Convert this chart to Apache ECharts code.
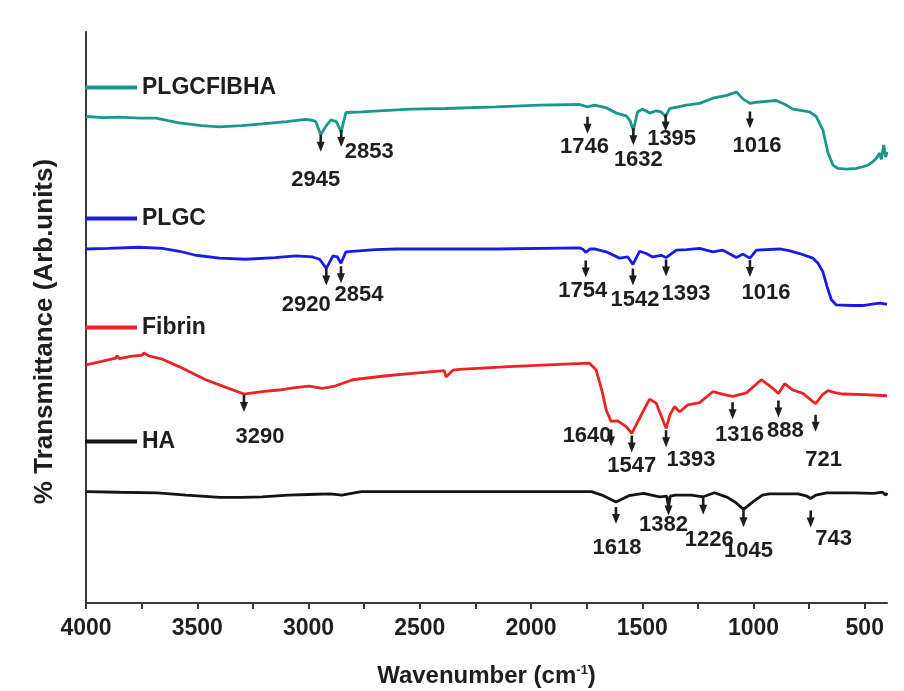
<!DOCTYPE html>
<html>
<head>
<meta charset="utf-8">
<script src="https://cdn.jsdelivr.net/npm/echarts@6/dist/echarts.min.js"></script>
<style>
  html, body { margin: 0; padding: 0; background: #ffffff; }
  #chart { width: 904px; height: 691px; }
</style>
</head>
<body>
<div id="chart"></div>
<script>
// FTIR spectra, stacked with offsets: [wavenumber (cm-1), transmittance (arb. units)]
const plgcfibha = [
  [4000,85.2],[3920,85.0],[3850,85.1],[3760,84.9],[3686,84.9],[3582,84.1],[3480,83.6],[3402,83.4],
  [3300,83.6],[3208,83.9],[3100,84.3],[3012,84.7],[2980,84.5],[2967,84.3],[2945,82.0],[2920,83.6],
  [2899,84.6],[2875,84.3],[2853,82.5],[2832,85.9],[2760,86.0],[2682,86.2],[2540,86.5],[2382,86.6],
  [2157,86.9],[1960,87.2],[1782,87.3],[1746,86.9],[1715,87.2],[1660,86.7],[1617,85.8],[1572,85.3],
  [1555,84.5],[1540,82.8],[1521,86.0],[1499,86.5],[1467,85.8],[1437,86.2],[1415,86.0],[1395,85.2],
  [1377,86.6],[1302,87.2],[1242,87.5],[1183,88.4],[1120,88.9],[1077,89.5],[1045,88.2],[1016,87.5],
  [987,87.7],[930,87.9],[898,88.0],[853,87.2],[823,86.5],[748,86.0],[718,85.2],[688,82.8],
  [665,78.8],[643,76.7],[620,76.1],[583,76.0],[538,76.1],[508,76.4],[485,76.7],[463,77.3],
  [448,77.9],[433,78.8],[425,77.7],[415,80.2],[406,78.1],[400,79.0]
];
const plgc = [
  [4000,62.0],[3900,62.1],[3762,62.3],[3657,62.1],[3580,61.6],[3507,60.9],[3400,60.4],[3282,60.2],
  [3150,60.5],[3057,60.8],[2982,60.6],[2950,60.2],[2920,58.6],[2890,60.8],[2870,60.6],[2854,59.5],
  [2832,61.5],[2700,61.9],[2607,62.0],[2157,62.0],[1782,62.2],[1765,61.9],[1754,61.4],[1735,62.0],
  [1715,62.0],[1662,61.5],[1602,60.4],[1565,60.6],[1542,59.3],[1512,61.6],[1482,61.2],[1453,60.6],
  [1415,60.9],[1393,60.5],[1347,61.8],[1300,61.9],[1242,62.1],[1183,61.5],[1138,61.8],[1077,60.5],
  [1048,61.1],[1016,60.4],[987,61.8],[883,62.0],[840,61.7],[793,61.2],[733,60.4],[710,59.5],
  [688,58.0],[670,55.5],[650,53.1],[628,52.2],[560,52.1],[508,52.1],[460,52.4],[430,52.5],[400,52.3]
];
const fibrin = [
  [4000,41.7],[3930,42.3],[3866,42.9],[3860,43.3],[3850,42.8],[3800,43.2],[3747,43.4],[3740,43.8],
  [3720,43.3],[3657,42.7],[3582,41.4],[3462,39.1],[3380,37.9],[3290,36.6],[3210,37.0],[3132,37.3],
  [3060,37.7],[2997,38.0],[2937,37.6],[2880,38.0],[2802,39.1],[2650,39.8],[2532,40.2],[2390,40.7],
  [2382,39.6],[2375,39.9],[2350,40.8],[2322,40.9],[2100,41.4],[1872,41.8],[1737,42.0],[1707,40.8],
  [1680,37.0],[1662,33.8],[1640,31.8],[1610,31.9],[1572,30.9],[1547,29.7],[1505,32.9],[1467,35.7],
  [1437,35.0],[1393,30.6],[1375,33.0],[1355,34.4],[1332,33.5],[1295,34.7],[1242,35.1],[1183,37.0],
  [1122,36.4],[1094,36.2],[1032,36.8],[965,39.1],[913,37.6],[888,36.7],[860,38.4],[823,37.3],
  [778,36.7],[721,34.9],[690,36.5],[665,37.2],[630,36.8],[598,36.6],[500,36.5],[400,36.3]
];
const ha = [
  [4000,19.5],[3850,19.4],[3679,19.3],[3550,18.9],[3397,18.5],[3300,18.5],[3209,18.6],[3091,18.9],
  [3000,19.0],[2903,19.1],[2850,18.9],[2763,19.5],[2400,19.5],[1728,19.5],[1681,18.9],[1618,17.7],
  [1560,18.8],[1494,19.2],[1422,18.6],[1390,18.7],[1382,16.9],[1374,18.7],[1352,18.9],[1280,18.9],
  [1226,18.6],[1176,19.3],[1117,18.5],[1080,17.6],[1045,16.4],[1000,17.8],[960,18.9],[929,19.1],
  [800,19.1],[760,18.7],[743,18.3],[720,18.9],[671,19.3],[550,19.3],[460,19.2],[420,19.4],
  [405,18.9],[400,19.3]
];

// Band markers: [arrow position (cm-1), printed label]
const bandsPLGCFIBHA = [[2945,'2945'],[2853,'2853'],[1746,'1746'],[1540,'1632'],[1395,'1395'],[1016,'1016']];
const bandsPLGC      = [[2920,'2920'],[2854,'2854'],[1754,'1754'],[1542,'1542'],[1393,'1393'],[1016,'1016']];
const bandsFibrin    = [[3290,'3290'],[1640,'1640'],[1547,'1547'],[1393,'1393'],[1094,'1316'],[888,'888'],[721,'721']];
const bandsHA        = [[1618,'1618'],[1382,'1382'],[1226,'1226'],[1045,'1045'],[743,'743']];

// Axis ticks (cm-1): labelled every 500, tick marks every 250
const majorTicks = [4000,3500,3000,2500,2000,1500,1000,500];
const allTicks = [4000,3750,3500,3250,3000,2750,2500,2250,2000,1750,1500,1250,1000,750,500];

// Marker layout in pixels: [gap between curve and arrow, label dx, label dy]
const layoutPLGCFIBHA = [[0,-5,45],[-2,28,20],[10,-3,40],[-2,5,30],[-2,6,22],[8,7,43]];
const layoutPLGC      = [[0,-20,37],[3,18,32],[8,-3,39],[4,2,36],[2,20,36],[2,16,35]];
const layoutFibrin    = [[1,16,43],[8,-24,15],[2,0,33],[2,25,32],[6,7,39],[7,7,37],[11,8,56]];
const layoutHA        = [[5,1,46],[-8,-5,18],[1,6,43],[1,5,42],[12,23,40]];

const FONT = '"Liberation Sans", Arial, Helvetica, sans-serif';
const INK = '#1e1e1e';
const AXIS = '#3a3a3a';

// Curve value at a given wavenumber (linear between neighbouring samples)
function valueAt(curve, x) {
  for (let i = 0; i < curve.length - 1; i++) {
    const a = curve[i], b = curve[i + 1];
    if ((x <= a[0] && x >= b[0]) || (x >= a[0] && x <= b[0])) {
      if (a[0] === b[0]) return a[1];
      return a[1] + (b[1] - a[1]) * (x - a[0]) / (b[0] - a[0]);
    }
  }
  return curve[curve.length - 1][1];
}

function markerSeries(curve, bands, layout) {
  const items = bands.map((b, i) => [b[0], valueAt(curve, b[0]), layout[i][0], layout[i][1], layout[i][2]]);
  return {
    type: 'custom',
    xAxisIndex: 0,
    yAxisIndex: 0,
    silent: true,
    z: 5,
    data: items,
    encode: { x: 0, y: 1 },
    renderItem: function (params, api) {
      const p = api.coord([api.value(0), api.value(1)]);
      const x = p[0];
      const y = p[1] + api.value(2);
      return {
        type: 'group',
        children: [
          {
            type: 'polygon',
            shape: { points: [[x - 1.3, y], [x + 1.3, y], [x + 1.3, y + 7], [x + 4, y + 7], [x, y + 17], [x - 4, y + 7], [x - 1.3, y + 7]] },
            style: { fill: INK }
          },
          {
            type: 'text',
            x: x + api.value(3),
            y: p[1] + api.value(4),
            style: {
              text: bands[params.dataIndex][1],
              fontFamily: FONT, fontWeight: 'bold', fontSize: 22,
              fill: INK, align: 'center', verticalAlign: 'middle'
            }
          }
        ]
      };
    }
  };
}

function spectrum(name, data, color) {
  return {
    name: name,
    type: 'line',
    data: data,
    showSymbol: false,
    symbol: 'none',
    smooth: false,
    lineStyle: { color: color, width: 2.8 },
    itemStyle: { color: color },
    emphasis: { disabled: true },
    z: 3
  };
}

function legendAt(name, top) {
  return {
    data: [name],
    left: 85,
    top: top,
    padding: 0,
    icon: 'rect',
    itemWidth: 52,
    itemHeight: 4,
    selectedMode: false,
    textStyle: { fontFamily: FONT, fontWeight: 'bold', fontSize: 23, color: INK }
  };
}

const chart = echarts.init(document.getElementById('chart'), null, { renderer: 'canvas' });
chart.setOption({
  animation: false,
  backgroundColor: '#ffffff',
  grid: { left: 86, right: 17, top: 32, bottom: 88, outerBoundsMode: 'none' },
  legend: [
    legendAt('PLGCFIBHA', 76),
    legendAt('PLGC', 207),
    legendAt('Fibrin', 316),
    legendAt('HA', 430)
  ],
  xAxis: {
    type: 'value', min: 400, max: 4000, inverse: true, position: 'bottom',
    axisLine: { show: true, onZero: false, lineStyle: { color: AXIS, width: 2 } },
    axisTick: { show: true, customValues: allTicks, length: 6, lineStyle: { color: AXIS, width: 2 } },
    axisLabel: {
      customValues: majorTicks, margin: 14,
      formatter: function (v) { return String(v); },
      fontFamily: FONT, fontWeight: 'bold', fontSize: 23, color: INK
    },
    splitLine: { show: false },
    name: 'Wavenumber (cm{sup|-1})',
    nameLocation: 'middle',
    nameGap: 61,
    nameTextStyle: {
      fontFamily: FONT, fontWeight: 'bold', fontSize: 24, color: INK,
      rich: { sup: { fontFamily: FONT, fontWeight: 'bold', fontSize: 13, color: INK, verticalAlign: 'top', padding: [0, 0, 12, 0] } }
    }
  },
  yAxis: {
    type: 'value', min: 0, max: 100,
    axisLine: { show: true, onZero: false, lineStyle: { color: AXIS, width: 2 } },
    axisTick: { show: false },
    axisLabel: { show: false },
    splitLine: { show: false },
    name: '% Transmittance (Arb.units)',
    nameLocation: 'middle',
    nameRotate: 90,
    nameGap: 28,
    nameTextStyle: { fontFamily: FONT, fontWeight: 'bold', fontSize: 26, color: INK, padding: [0, 28, 0, 0] }
  },
  series: [
    spectrum('PLGCFIBHA', plgcfibha, '#18978b'),
    spectrum('PLGC', plgc, '#1a1ae6'),
    spectrum('Fibrin', fibrin, '#ee2222'),
    spectrum('HA', ha, '#141414'),
    markerSeries(plgcfibha, bandsPLGCFIBHA, layoutPLGCFIBHA),
    markerSeries(plgc, bandsPLGC, layoutPLGC),
    markerSeries(fibrin, bandsFibrin, layoutFibrin),
    markerSeries(ha, bandsHA, layoutHA)
  ]
});
</script>
</body>
</html>
